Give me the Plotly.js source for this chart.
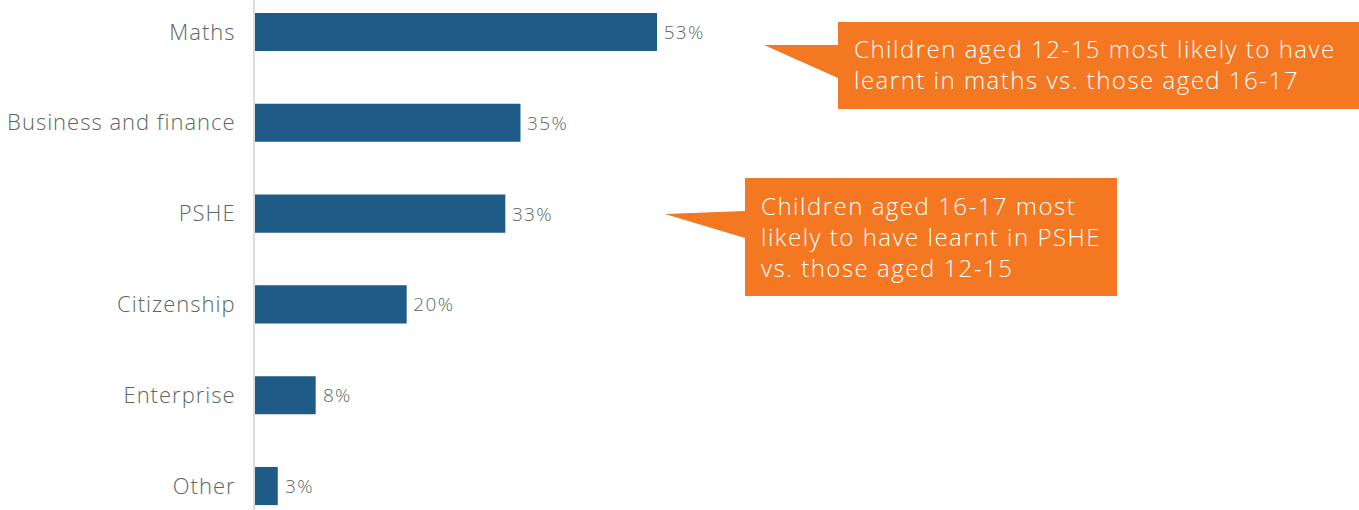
<!DOCTYPE html>
<html>
<head>
<meta charset="utf-8">
<script src="https://cdn.plot.ly/plotly-3.0.1.min.js"></script>
<style>
html,body{margin:0;padding:0;background:#fff;}
#chart{width:1359px;height:510px;}
#chart .ytick text{letter-spacing:1px;}
#chart .bartext{letter-spacing:1.3px;}
#chart .annotation-text{letter-spacing:1.5px;}
</style>
</head>
<body>
<div id="chart"></div>
<script>
// Data
const categories = ["Maths", "Business and finance", "PSHE", "Citizenship", "Enterprise", "Other"];
const values = [53, 35, 33, 20, 8, 3];
const valueLabels = values.map(v => " " + v + "%");
const callout1Text = "Children aged 12-15 most likely to have<br>learnt in maths vs. those aged 16-17";
const callout2Text = "Children aged 16-17 most<br>likely to have learnt in PSHE<br>vs. those aged 12-15";

// Layout geometry
const W = 1359, H = 510, ML = 255;
const PW = W - ML;
const px = x => (x - ML) / PW;
const py = y => 1 - y / H;
const orange = "#F47722";
const FONT = "'Open Sans', Lato, sans-serif";

function calloutPath(box, tip, b1, b2) {
  return "M" + px(tip[0]) + "," + py(tip[1]) +
    " L" + px(box[0]) + "," + py(b1) +
    " L" + px(box[0]) + "," + py(box[1]) +
    " L" + px(box[2]) + "," + py(box[1]) +
    " L" + px(box[2]) + "," + py(box[3]) +
    " L" + px(box[0]) + "," + py(box[3]) +
    " L" + px(box[0]) + "," + py(b2) + " Z";
}

const trace = {
  type: "bar",
  orientation: "h",
  y: categories,
  x: values,
  text: valueLabels,
  textposition: "outside",
  cliponaxis: false,
  textfont: {family: FONT, size: 19, color: "#5b6763", weight: 300},
  marker: {color: "#1F5B87"},
  width: 0.42,
  hoverinfo: "skip"
};

const layout = {
  width: W, height: H,
  margin: {l: ML, r: 0, t: 0, b: 0, pad: 0},
  paper_bgcolor: "#ffffff",
  plot_bgcolor: "#ffffff",
  showlegend: false,
  font: {family: FONT},
  xaxis: {range: [0, PW / 7.585], showgrid: false, zeroline: false, showticklabels: false, showline: false, fixedrange: true},
  yaxis: {
    type: "category",
    range: [5.264, -0.352],
    showgrid: false, zeroline: false,
    showline: true, linecolor: "#dcdcdc", linewidth: 2,
    ticks: "",
    ticklabelstandoff: 13,
    tickfont: {family: FONT, size: 22, color: "#5b6763", weight: 300},
    fixedrange: true
  },
  shapes: [
    {type: "path", xref: "paper", yref: "paper", path: calloutPath([838, 22, 1359, 109], [764, 45], 45, 78), fillcolor: orange, line: {width: 0}, layer: "above"},
    {type: "path", xref: "paper", yref: "paper", path: calloutPath([745, 178, 1117, 296], [665, 214], 211, 238), fillcolor: orange, line: {width: 0}, layer: "above"}
  ],
  annotations: [
    {xref: "paper", yref: "paper", x: px(852), y: py(64), xanchor: "left", yanchor: "middle", align: "left", showarrow: false,
     text: callout1Text, font: {family: FONT, size: 24, color: "#ffffff", weight: 300}},
    {xref: "paper", yref: "paper", x: px(759), y: py(236), xanchor: "left", yanchor: "middle", align: "left", showarrow: false,
     text: callout2Text, font: {family: FONT, size: 24, color: "#ffffff", weight: 300}}
  ]
};

Plotly.newPlot("chart", [trace], layout, {displayModeBar: false, staticPlot: true});
</script>
</body>
</html>
